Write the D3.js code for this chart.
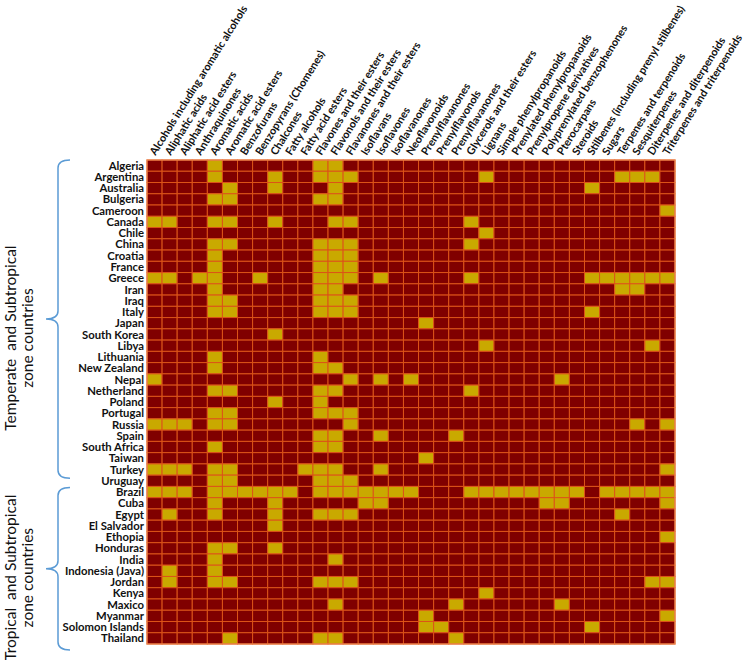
<!DOCTYPE html>
<html>
<head>
<meta charset="utf-8">
<script src="https://cdn.jsdelivr.net/npm/d3@7"></script>
<style>
  body { margin: 0; background: #fff; }
  text { font-family: Lato, "Noto Sans", sans-serif; }
</style>
</head>
<body>
<svg id="chart" width="746" height="660"></svg>
<script>
// compound classes (columns)
var classes = [
  "Alcohols including aromatic alcohols", "Aliphatic acids", "Aliphatic acid esters",
  "Anthraquinones", "Aromatic acids", "Aromatic acid esters", "Benzofurans",
  "Benzopyrans (Chomenes)", "Chalcones", "Fatty alcohols", "Fatty acid esters",
  "Flavones and their esters", "Flavonols and their esters", "Flavanones and their esters",
  "Isoflavans", "Isoflavones", "Isoflavanones", "Neoflavonoids", "Prenylflavanones",
  "Prenylflavonols", "Prenylflavanones ", "Glycerols and their esters", "Lignans",
  "Simple phenylpropanoids", "Prenylated phenylpropanoids", "Prenylpropene derivatives",
  "Polyprenylated benzophenones", "Pterocarpans", "Steroids",
  "Stilbenes (including prenyl stilbenes)", "Sugars", "Terpenes and terpenoids",
  "Sesquiterpenes", "Diterpenes and diterpenoids", "Triterpenes and triterpenoids"
];

// countries (rows)
var countries = [
  "Algeria", "Argentina", "Australia", "Bulgeria", "Cameroon", "Canada", "Chile", "China",
  "Croatia", "France", "Greece", "Iran", "Iraq", "Italy", "Japan", "South Korea", "Libya",
  "Lithuania", "New Zealand", "Nepal", "Netherland", "Poland", "Portugal", "Russia", "Spain",
  "South Africa", "Taiwan", "Turkey", "Uruguay",
  "Brazil", "Cuba", "Egypt", "El Salvador", "Ethopia", "Honduras", "India", "Indonesia (Java)",
  "Jordan", "Kenya", "Maxico", "Myanmar", "Solomon Islands", "Thailand"
];

// class numbers (1-based) reported for each country
var presentIn = [
  [5, 12, 13],
  [5, 9, 12, 13, 14, 23, 32, 33, 34],
  [6, 9, 13, 30],
  [5, 6, 12, 13],
  [35],
  [1, 2, 5, 6, 9, 13, 14, 22],
  [23],
  [5, 6, 12, 13, 14, 22],
  [5, 12, 13, 14],
  [5, 12, 13, 14],
  [1, 2, 4, 5, 8, 12, 13, 14, 16, 22, 30, 31, 32, 33, 34, 35],
  [5, 12, 13, 32, 33],
  [5, 6, 12, 13, 14],
  [5, 6, 12, 13, 14, 30],
  [19],
  [9],
  [23, 34],
  [5, 12],
  [5, 12, 13],
  [1, 14, 16, 18, 28],
  [5, 6, 12, 13, 22],
  [9, 12],
  [5, 6, 12, 13, 14],
  [1, 2, 3, 5, 6, 14, 33, 35],
  [12, 13, 16, 21],
  [5, 12, 13],
  [19],
  [1, 2, 3, 5, 6, 11, 12, 13, 16, 35],
  [5, 6, 12, 13, 14],
  [1, 2, 3, 5, 6, 7, 8, 9, 10, 12, 13, 14, 15, 16, 17, 18, 22, 23, 24, 25, 26, 27, 28, 29, 31, 32, 33, 34, 35],
  [5, 9, 15, 16, 27, 28, 35],
  [2, 5, 9, 12, 13, 14, 32],
  [9],
  [35],
  [5, 6, 9],
  [5, 13],
  [2, 5],
  [2, 5, 6, 12, 13, 14, 34, 35],
  [23],
  [13, 21, 28],
  [19, 35],
  [19, 20, 30],
  [6, 12, 13, 21]
];

// zone groups: title lines, first and last country
var groupTitles = [["Temperate  and Subtropical", "zone countries"], ["Tropical  and Subtropical", "zone countries"]];
var groupFirst = ["Algeria", "Brazil"];
var groupLast = ["Turkey", "Thailand"];

var darkRed = "#800000", gold = "#c9a900", gridLine = "#dc5418", braceBlue = "#5b9bd5";

var svg = d3.select("#chart");

var x = d3.scaleBand().domain(classes).range([147, 675]);
var y = d3.scaleBand().domain(countries).range([160, 644]);

var cells = [];
countries.forEach(function (c, i) {
  classes.forEach(function (k, j) {
    cells.push({ country: c, cls: k, on: presentIn[i].indexOf(j + 1) >= 0 });
  });
});

svg.append("g")
  .selectAll("rect")
  .data(cells)
  .join("rect")
  .attr("x", d => x(d.cls))
  .attr("y", d => y(d.country))
  .attr("width", x.bandwidth())
  .attr("height", y.bandwidth())
  .attr("fill", d => d.on ? gold : darkRed)
  .attr("stroke", gridLine)
  .attr("stroke-width", 1);

// outer border
svg.append("rect")
  .attr("x", x.range()[0])
  .attr("y", y.range()[0])
  .attr("width", x.range()[1] - x.range()[0])
  .attr("height", y.range()[1] - y.range()[0])
  .attr("fill", "none")
  .attr("stroke", "#ee8a55")
  .attr("stroke-width", 1.2);

// country labels
svg.append("g")
  .selectAll("text")
  .data(countries)
  .join("text")
  .attr("x", x.range()[0] - 3)
  .attr("y", d => y(d) + y.bandwidth() / 2)
  .attr("dy", "0.36em")
  .attr("text-anchor", "end")
  .attr("font-size", 11.3)
  .attr("font-weight", "bold")
  .attr("fill", "#111")
  .text(d => d);

// class labels, rotated
svg.append("g")
  .selectAll("text")
  .data(classes)
  .join("text")
  .attr("transform", d => "translate(" + (x(d) + x.bandwidth() / 2 + 1) + "," + (y.range()[0] - 4) + ") rotate(-58)")
  .attr("text-anchor", "start")
  .attr("font-size", 10.8)
  .attr("font-weight", "bold")
  .attr("fill", "#111")
  .text(d => d.trim());

// braces and zone titles
groupTitles.forEach(function (lines, g) {
  var top = y(groupFirst[g]) + (g ? 1 : 0);
  var bottom = y(groupLast[g]) + y.bandwidth() + (g ? 6 : 3);
  var mid = (top + bottom) / 2;
  var xs = 58, xe = 70, xt = 46;
  var p = d3.path();
  p.moveTo(xe, top);
  p.quadraticCurveTo(xs, top, xs, top + 8);
  p.lineTo(xs, mid - 8);
  p.quadraticCurveTo(xs, mid, xt, mid);
  p.quadraticCurveTo(xs, mid, xs, mid + 8);
  p.lineTo(xs, bottom - 8);
  p.quadraticCurveTo(xs, bottom, xe, bottom);
  svg.append("path")
    .attr("d", p.toString())
    .attr("fill", "none")
    .attr("stroke", braceBlue)
    .attr("stroke-width", 1.5);

  var cy = mid + (g ? 9 : 19);
  lines.forEach(function (t, li) {
    svg.append("text")
      .attr("transform", "translate(" + (16 + li * 17) + "," + cy + ") rotate(-90)")
      .attr("text-anchor", "middle")
      .attr("font-size", 15.5)
      .attr("fill", "#111")
      .style("white-space", "pre")
      .text(t);
  });
});
</script>
</body>
</html>
